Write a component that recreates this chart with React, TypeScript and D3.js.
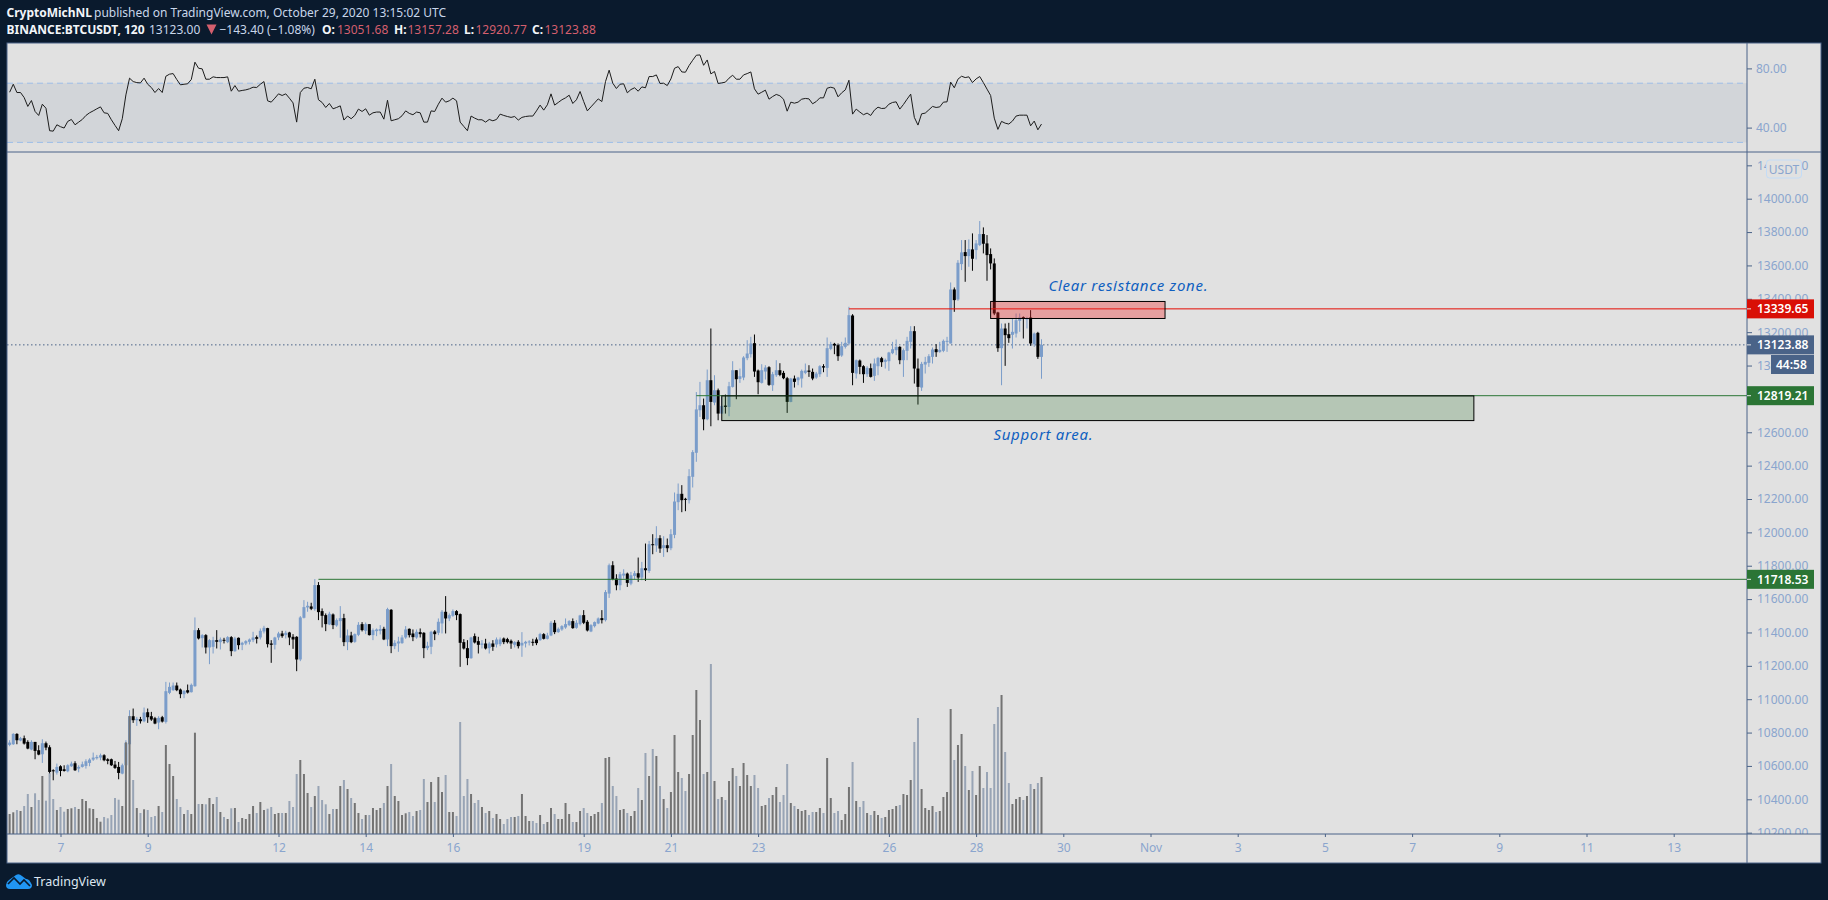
import * as d3 from "d3";
import { useEffect, useRef } from "react";

const width = 1828;
const height = 900;

const opens = [
  10726,10730,10792,10752,10766,10744,10698,10744,10694,10670,
  10736,10712,10574,10560,10598,10580,10568,10598,10616,10584,
  10594,10600,10618,10638,10646,10650,10664,10640,10640,10608,
  10594,10554,10604,10730,10898,10874,10880,10868,10922,10898,
  10886,10860,10892,10864,11038,11054,11082,11058,11030,11054,
  11042,11078,11414,11366,11384,11310,11314,11354,11342,11356,
  11342,11372,11288,11368,11326,11334,11344,11354,11372,11370,
  11406,11426,11334,11326,11370,11394,11384,11400,11374,11374,
  11238,11488,11550,11556,11540,11684,11528,11504,11448,11508,
  11442,11468,11486,11342,11382,11344,11386,11450,11410,11450,
  11384,11408,11410,11422,11358,11536,11318,11334,11336,11370,
  11422,11394,11370,11402,11398,11306,11314,11406,11398,11454,
  11524,11484,11500,11528,11510,11342,11306,11246,11378,11348,
  11326,11334,11306,11334,11328,11330,11364,11360,11350,11326,
  11344,11322,11334,11340,11344,11358,11354,11390,11362,11382,
  11458,11402,11418,11430,11444,11468,11428,11450,11504,11464,
  11406,11438,11454,11486,11474,11633,11803,11723,11683,11741,
  11753,11693,11739,11755,11729,11785,11769,11929,11921,11965,
  11907,11923,11905,11985,12181,12231,12201,12193,12333,12477,
  12732,12762,12678,12912,12778,12852,12712,12760,12752,12872,
  12972,12920,12928,13044,13068,13134,12970,12896,12964,12990,
  12882,12942,12972,12956,12924,12782,12922,12912,12922,12956,
  12970,12962,12928,12948,12996,12986,13100,13130,13122,13060,
  13112,13132,13300,12952,13030,12996,12948,12984,12938,12996,
  13044,13022,13026,13074,13092,13112,13032,13088,13142,13206,
  12982,12868,13006,13016,13052,13098,13082,13088,13142,13132,
  13456,13396,13608,13680,13656,13696,13692,13722,13788,13732,
  13668,13612,13318,13104,13222,13188,13184,13192,13268,13290,
  13278,13288,13128,13196,13051.68,
];

const closes = [
  10740,10792,10754,10766,10734,10704,10744,10690,10668,10736,
  10710,10564,10568,10594,10570,10570,10604,10614,10574,10594,
  10610,10628,10638,10650,10654,10664,10634,10630,10604,10588,
  10558,10604,10738,10898,10874,10882,10868,10920,10892,10878,
  10854,10888,10866,11048,11074,11082,11054,11030,11050,11040,
  11086,11414,11364,11384,11310,11354,11354,11344,11358,11350,
  11372,11288,11364,11324,11338,11348,11358,11370,11362,11410,
  11428,11330,11326,11370,11394,11378,11398,11370,11358,11238,
  11490,11552,11560,11542,11684,11522,11500,11450,11512,11444,
  11474,11486,11342,11382,11342,11390,11446,11414,11450,11384,
  11414,11418,11420,11358,11540,11318,11338,11346,11370,11418,
  11384,11372,11404,11390,11306,11320,11404,11390,11464,11524,
  11484,11504,11528,11504,11338,11304,11246,11370,11340,11326,
  11334,11304,11334,11314,11358,11358,11342,11342,11334,11342,
  11318,11338,11344,11346,11340,11336,11390,11362,11382,11458,
  11402,11422,11438,11450,11468,11426,11458,11502,11458,11412,
  11444,11462,11484,11474,11642,11803,11719,11683,11749,11753,
  11697,11743,11755,11729,11785,11773,11929,11923,11965,11903,
  11923,11905,11989,12185,12231,12193,12197,12337,12481,12737,
  12762,12678,12912,12782,12852,12712,12758,12752,12876,12972,
  12918,12936,13048,13072,13132,12964,12900,12972,12988,12884,
  12948,12972,12944,12924,12782,12922,12902,12928,12968,12970,
  12962,12922,12952,12996,12988,13104,13128,13120,13056,13116,
  13136,13302,12956,13032,12992,12948,12986,12932,13012,13046,
  13020,13034,13078,13098,13112,13032,13092,13148,13206,12982,
  12872,13010,13022,13056,13096,13080,13094,13148,13148,13456,
  13392,13616,13678,13656,13698,13640,13732,13788,13730,13662,
  13612,13312,13104,13222,13182,13164,13202,13272,13288,13284,
  13282,13132,13192,13052,13123.88,
];

const highs = [
  10754,10796,10796,10774,10782,10754,10754,10744,10724,10760,
  10746,10724,10580,10614,10604,10604,10610,10626,10628,10604,
  10626,10640,10646,10680,10666,10674,10670,10646,10644,10630,
  10624,10614,10754,10934,10944,10894,10894,10950,10944,10924,
  10894,10898,10900,11104,11100,11100,11100,11064,11054,11088,
  11094,11490,11426,11390,11390,11360,11374,11414,11370,11368,
  11378,11378,11374,11370,11344,11354,11364,11404,11382,11424,
  11440,11428,11354,11374,11404,11410,11410,11404,11390,11378,
  11498,11594,11584,11578,11720,11702,11544,11514,11524,11514,
  11484,11558,11512,11418,11404,11394,11462,11462,11460,11450,
  11424,11424,11444,11434,11548,11540,11354,11374,11384,11438,
  11424,11418,11418,11424,11402,11344,11410,11414,11484,11534,
  11618,11514,11538,11534,11514,11360,11354,11374,11394,11374,
  11354,11362,11344,11354,11370,11370,11370,11368,11358,11348,
  11354,11402,11350,11354,11362,11370,11398,11396,11398,11468,
  11474,11430,11444,11484,11474,11484,11474,11506,11534,11474,
  11450,11466,11490,11534,11654,11813,11827,11749,11763,11779,
  11759,11763,11769,11849,11823,11933,11949,11989,12037,11983,
  11977,11963,12019,12239,12293,12283,12207,12379,12493,12841,
  12902,12802,12976,13222,12942,12862,12812,12826,12902,13026,
  12972,12982,13056,13152,13172,13186,12976,13008,13002,12996,
  12962,13032,13014,12968,12932,12926,12940,12932,12976,13012,
  13002,12982,12962,13002,13008,13168,13142,13136,13132,13142,
  13168,13352,13308,13036,13036,13002,12996,13012,13042,13052,
  13052,13042,13082,13142,13156,13116,13102,13172,13236,13236,
  13042,13022,13052,13068,13108,13128,13142,13156,13172,13498,
  13468,13632,13752,13752,13756,13792,13752,13866,13828,13782,
  13702,13642,13322,13252,13252,13256,13282,13312,13312,13294,
  13292,13332,13198,13202,13157.28,
];

const lows = [
  10718,10726,10730,10748,10728,10700,10694,10640,10664,10618,
  10694,10532,10514,10548,10538,10566,10562,10594,10570,10562,
  10590,10584,10598,10630,10638,10634,10628,10610,10600,10582,
  10520,10550,10554,10714,10858,10840,10854,10862,10858,10870,
  10850,10820,10860,10854,11030,11050,11048,11006,11006,11034,
  11040,11074,11358,11310,11274,11210,11274,11304,11298,11334,
  11336,11258,11284,11298,11294,11324,11328,11342,11334,11358,
  11394,11310,11218,11298,11354,11368,11364,11324,11302,11168,
  11228,11484,11524,11534,11530,11474,11430,11408,11444,11420,
  11434,11368,11318,11294,11336,11338,11378,11406,11390,11382,
  11354,11378,11388,11354,11318,11276,11300,11284,11332,11362,
  11370,11348,11362,11370,11246,11294,11270,11354,11384,11394,
  11394,11468,11494,11474,11194,11298,11204,11242,11334,11274,
  11304,11298,11274,11290,11310,11318,11330,11334,11302,11310,
  11304,11254,11310,11322,11320,11324,11350,11358,11358,11378,
  11390,11398,11410,11422,11438,11422,11422,11442,11450,11406,
  11402,11430,11450,11454,11466,11607,11713,11653,11653,11723,
  11673,11683,11717,11703,11713,11709,11757,11869,11883,11877,
  11853,11881,11893,11965,12133,12121,12127,12173,12269,12423,
  12692,12612,12672,12636,12762,12672,12712,12712,12696,12868,
  12798,12896,12912,13032,13048,12932,12828,12892,12916,12878,
  12848,12932,12936,12918,12716,12780,12868,12882,12868,12948,
  12932,12912,12920,12932,12960,12932,13092,13068,13028,13052,
  13102,13122,12882,12922,12948,12896,12932,12928,12908,12942,
  12992,12982,12968,13068,13062,13008,12932,13032,13102,12892,
  12766,12848,12952,12992,13012,13052,13076,13080,13082,13132,
  13322,13388,13572,13502,13592,13568,13636,13716,13672,13508,
  13576,13302,13082,12882,12998,13136,13102,13168,13202,13162,
  13222,13118,13112,13040,12920.77,
];

const volumes = [
  20,21.7,24,23,28,40,27,40.7,34,58,
  33.3,60.7,35,24,27,22.3,25,25.7,27,25,
  35,33,25.7,25,16,12.3,17,15.7,19,36,
  34.3,28,91.7,118,54,26,21,24.7,24,17,
  18,28,22,89,70,58,35,27,20,24,
  20,101.3,30,30,29.7,36,30,37,22,17,
  15,25.7,26,12,16,15,20,28,21,32,
  24,25.3,27,20,21,21,21,33,27,60,
  74,60,41,27,38,48,34,29.7,20,25,
  25,48,54,45,36,31,21,15,19,19,
  26,24,26,31,48,70,38,33,19,20.7,
  22,18,23,24,55,32,52,32,57,42,
  59,22,22,18,112,38,55,40,31,34,
  27,21,23,16,20,
  15,10,15,17,17,18,40,18,13,13,
  11,19,10,12,26,20,15,15,31,20,
  12,12,23,26,21,18,20,22,31,76,
  77,48,38,24,25,21,18,23,46,34,
  81,58,85,78,48,35,26,42,99,62,
  56,43,60,99,144,114,60,62,170,53,
  35,37,34,53,66,58,48,71,59,48,
  59,46,28,29,36,39,47,32,39,70,
  31,28,25,23,24,19,22,22,26,21,
  76,36,21,23,14,20,47,72,33,27,
  33,21,19,23,19,16,17,24,25,28,
  29,40,39,54,92,116,45,26,24,28,
  22,23,37,42,125,74,89,100,68,44,
  63,39,68,46,62,46,110,127,139,82,
  51,30,35,37,34,38,50,45,51,57,
];

const rsiValues = [
  63.9,69.3,63.7,63.7,60.3,54.3,58.3,50.9,48.2,55.8,
  53.1,37.9,37.6,41.9,40.6,39.7,44.2,45.5,41.9,43.7,
  45.5,48.2,50,51.3,52.7,54,50,49.6,45.3,41.5,
  37.9,46,62.1,73.4,71.1,70.4,70.2,73.4,69.3,67.1,
  63.7,66.4,63.7,74.7,76.1,76.5,72.5,68.9,69.3,69.6,
  72.5,84.2,80.1,79.7,72.7,72.7,74.3,73.8,73.8,73.8,
  74.3,64.6,68.4,64.6,65.1,65.5,66.2,67.3,67.1,69.3,
  71.1,58.1,57.2,59.9,62.8,61.7,62.8,59.9,56.7,43.7,
  63.7,66.6,67.1,66.2,72.7,58.8,57,53.6,56.3,52.7,
  53.6,54.7,45.1,47.8,
  46,48.2,52.5,50.9,52.7,48.4,50,50.5,50.5,45.7,
  58.5,44.6,45.3,46,48,51.3,49.6,48.7,50.5,50,
  43.7,43.7,51.3,50.9,55.8,59.9,57.2,58.1,59.9,58.1,
  43.7,40.8,37.9,47.8,46.4,45.3,45.3,43.7,45.5,44.6,
  45.5,49.1,48.2,47.5,46.9,47.5,45.1,46.9,47.5,47.8,
  47.8,51.3,55.2,51.8,55.4,62.8,55.2,57,58.8,60.1,
  61.9,56.3,58.8,64.4,57.6,51.3,54,56.7,59.4,57.6,
  71.1,78.8,70,66.4,69.3,69.6,63.5,65.7,66.9,64.6,
  67.5,66.9,74.5,74.5,75.6,69.8,70,68.4,72.9,80.1,
  81.2,77.6,77.4,81.9,85.5,88.9,
  89.1,82.1,85.7,76.3,77.9,69.8,70.2,70.7,73.4,75.4,
  72.7,72.7,75.6,76.5,77.6,66.2,62.6,63.9,65.3,59.2,
  61,62.4,61.5,59.2,51.1,57.2,56.5,57.2,59.2,59.7,
  59.4,56.1,57.6,60.1,60.1,66.6,67.3,66.6,60.8,63.5,
  65.5,72,49.1,52.5,50.5,48.7,49.8,48.2,51.8,53.8,
  52.9,53.1,55.8,57,57.4,52.5,55.6,59.2,62.6,46.9,
  41.7,49.3,49.8,52,54.3,53.6,54,57.2,57.4,70.7,
  66.9,72.7,74.7,73.8,74.3,70.4,72.9,74.5,70.4,66,
  61.7,46.4,38.8,44.2,43,42.4,44.4,47.8,48.4,48.4,
  48.4,41.2,44.4,38.5,42.4,
];

const priceTicks = d3.range(10200, 14201, 200);
const rsiTicks = [80, 40];
const dayTicks = [
  [9, 7], [9, 9], [9, 12], [9, 14], [9, 16], [9, 19], [9, 21], [9, 23], [9, 26], [9, 28], [9, 30],
  [10, 1], [10, 3], [10, 5], [10, 7], [10, 9], [10, 11], [10, 13],
];

const lastClose = 13123.88;
const resistanceLevel = 13339.65;
const supportLevel = 12819.21;
const breakoutLevel = 11718.53;
const resistanceZone = { fromBar: 270, toBar: 318, top: 13384, bottom: 13282 };
const supportZone = { fromBar: 196, toBar: 403, top: 12818, bottom: 12670 };

const bg = "#0a1a2d";
const panelBg = "#e1e1e1";
const borderColor = "#4a6388";
const axisText = "#8aa5ce";
const upColor = "#7b9dca";
const red = "#d90f06";
const green = "#2b7535";
const uiFont = "'Noto Sans', sans-serif";

const left = 7;
const right = 1821;
const axisX = 1747;
const top = 43;
const paneSplit = 152;
const timeAxisY = 834;
const bottom = 863;

export default function App() {
  const svgRef = useRef<SVGSVGElement>(null);

  useEffect(() => {
    document.body.style.margin = "0";
    document.body.style.background = bg;
    if (!svgRef.current) return;

    const svg = d3.select(svgRef.current);
    svg.selectAll("*").remove();

    const x = d3.scaleUtc()
      .domain([new Date(Date.UTC(2020, 9, 7)), new Date(Date.UTC(2020, 10, 13))])
      .range([60.5, 1673.7]);
    const barTime = (i: number) => new Date(Date.UTC(2020, 9, 7) + (i - 14) * 2 * 3600 * 1000);
    const barX = (i: number) => x(barTime(i));

    const priceY = d3.scaleLinear().domain([10400, 14000]).range([799.3, 198.7]);
    const rsiY = d3.scaleLinear().domain([30, 70]).range([142.4, 83.2]);
    const volumeY = d3.scaleLinear().domain([0, 170]).range([timeAxisY, 664]);

    svg.append("rect").attr("width", width).attr("height", height).attr("fill", bg);
    svg.append("rect")
      .attr("x", left).attr("y", top)
      .attr("width", right - left).attr("height", bottom - top)
      .attr("fill", panelBg);

    svg.append("defs").append("clipPath").attr("id", "price-axis-clip").append("rect")
      .attr("x", axisX).attr("y", paneSplit).attr("width", right - axisX).attr("height", timeAxisY - paneSplit);

    // rsi pane
    svg.append("rect")
      .attr("x", left).attr("y", rsiY(70))
      .attr("width", axisX - left).attr("height", rsiY(30) - rsiY(70))
      .attr("fill", "#d2d5d9");
    [70, 30].forEach((level) => {
      svg.append("line")
        .attr("x1", left).attr("x2", axisX)
        .attr("y1", rsiY(level)).attr("y2", rsiY(level))
        .attr("stroke", "#9dbde8").attr("stroke-dasharray", "6,4");
    });
    const rsiLine = d3.line<number>()
      .x((_, i) => barX(i))
      .y((d) => rsiY(d));
    svg.append("path")
      .attr("d", rsiLine(rsiValues))
      .attr("fill", "none").attr("stroke", "#1c1c1c").attr("stroke-width", 1);

    // last close dotted line sits under the candles
    svg.append("line")
      .attr("x1", left).attr("x2", axisX)
      .attr("y1", priceY(lastClose)).attr("y2", priceY(lastClose))
      .attr("stroke", borderColor).attr("stroke-dasharray", "1.5,2.5");

    // candles
    const bars = d3.range(opens.length);
    const candleColor = (i: number) => closes[i] >= opens[i] ? upColor : "#000000";
    svg.append("g").selectAll("line")
      .data(bars)
      .join("line")
      .attr("x1", (i) => barX(i)).attr("x2", (i) => barX(i))
      .attr("y1", (i) => priceY(highs[i])).attr("y2", (i) => priceY(lows[i]))
      .attr("stroke", candleColor).attr("stroke-width", 1);
    svg.append("g").selectAll("rect")
      .data(bars)
      .join("rect")
      .attr("x", (i) => barX(i) - 1.5)
      .attr("width", 3)
      .attr("y", (i) => priceY(Math.max(opens[i], closes[i])))
      .attr("height", (i) => Math.max(1, Math.abs(priceY(opens[i]) - priceY(closes[i]))))
      .attr("fill", candleColor);

    // volume colours are the other way round from the candles on this chart
    svg.append("g").selectAll("rect")
      .data(bars)
      .join("rect")
      .attr("x", (i) => barX(i) - 1)
      .attr("width", 2)
      .attr("y", (i) => volumeY(volumes[i]))
      .attr("height", (i) => timeAxisY - volumeY(volumes[i]))
      .attr("fill", (i) => closes[i] >= opens[i] ? "#737373" : "#98a4b5");

    // horizontal levels
    const levels = [
      { price: resistanceLevel, from: 231, color: "#e40b03" },
      { price: supportLevel, from: 189, color: green },
      { price: breakoutLevel, from: 85, color: green },
    ];
    levels.forEach((level) => {
      svg.append("line")
        .attr("x1", barX(level.from)).attr("x2", axisX)
        .attr("y1", priceY(level.price)).attr("y2", priceY(level.price))
        .attr("stroke", level.color).attr("stroke-width", 1);
    });

    // zones
    svg.append("rect")
      .attr("x", barX(resistanceZone.fromBar))
      .attr("y", priceY(resistanceZone.top))
      .attr("width", barX(resistanceZone.toBar) - barX(resistanceZone.fromBar))
      .attr("height", priceY(resistanceZone.bottom) - priceY(resistanceZone.top))
      .attr("fill", "rgba(240,40,40,0.35)").attr("stroke", "#000").attr("stroke-width", 1);
    svg.append("rect")
      .attr("x", barX(supportZone.fromBar))
      .attr("y", priceY(supportZone.top))
      .attr("width", barX(supportZone.toBar) - barX(supportZone.fromBar))
      .attr("height", priceY(supportZone.bottom) - priceY(supportZone.top))
      .attr("fill", "rgba(50,120,50,0.25)").attr("stroke", "#000").attr("stroke-width", 1);

    // annotations
    svg.append("text")
      .attr("x", 1048.5).attr("y", 291)
      .attr("textLength", 159)
      .attr("font-family", uiFont).attr("font-style", "italic")
      .attr("font-size", 15).attr("fill", "#0f5fc0")
      .text("Clear resistance zone.");
    svg.append("text")
      .attr("x", 993.5).attr("y", 440)
      .attr("textLength", 99)
      .attr("font-family", uiFont).attr("font-style", "italic")
      .attr("font-size", 15).attr("fill", "#0f5fc0")
      .text("Support area.");

    // axes
    const priceAxis = svg.append("g")
      .attr("clip-path", "url(#price-axis-clip)")
      .append("g")
      .attr("transform", `translate(${axisX},0)`);
    priceAxis.call(
      d3.axisRight(priceY).tickValues(priceTicks).tickSize(5).tickPadding(5).tickFormat(d3.format(".2f") as any),
    );
    const rsiAxis = svg.append("g").attr("transform", `translate(${axisX},0)`);
    rsiAxis.call(
      d3.axisRight(rsiY).tickValues(rsiTicks).tickSize(5).tickPadding(4).tickFormat(d3.format(".2f") as any),
    );
    const timeAxis = svg.append("g").attr("transform", `translate(0,${timeAxisY})`);
    timeAxis.call(
      d3.axisBottom(x)
        .tickValues(dayTicks.map(([m, d]) => new Date(Date.UTC(2020, m, d))))
        .tickSize(3).tickPadding(6)
        .tickFormat((d: any) => (d.getUTCMonth() === 10 && d.getUTCDate() === 1 ? "Nov" : String(d.getUTCDate()))),
    );
    [priceAxis, rsiAxis, timeAxis].forEach((axis) => {
      axis.select(".domain").remove();
      axis.selectAll("line").attr("stroke", borderColor);
      axis.selectAll("text")
        .attr("fill", axisText).attr("font-family", uiFont).attr("font-size", 12);
    });

    // frame
    const frame = svg.append("g").attr("stroke", borderColor).attr("stroke-width", 1).attr("fill", "none");
    frame.append("rect").attr("x", left).attr("y", top).attr("width", right - left).attr("height", bottom - top);
    frame.append("line").attr("x1", left).attr("x2", right).attr("y1", paneSplit).attr("y2", paneSplit);
    frame.append("line").attr("x1", left).attr("x2", right).attr("y1", timeAxisY).attr("y2", timeAxisY);
    frame.append("line").attr("x1", axisX).attr("x2", axisX).attr("y1", top).attr("y2", bottom);

    // price labels
    const tags = [
      { price: resistanceLevel, color: red },
      { price: lastClose, color: borderColor },
      { price: supportLevel, color: green },
      { price: breakoutLevel, color: green },
    ];
    tags.forEach((tag) => {
      const y = priceY(tag.price);
      svg.append("rect")
        .attr("x", axisX).attr("y", y - 9.5).attr("width", 67).attr("height", 19)
        .attr("fill", tag.color);
      svg.append("line")
        .attr("x1", axisX).attr("x2", axisX + 4).attr("y1", y).attr("y2", y)
        .attr("stroke", "#e8e8e8");
      svg.append("text")
        .attr("x", axisX + 10).attr("y", y + 4.3)
        .attr("font-family", uiFont).attr("font-size", 12).attr("font-weight", 600)
        .attr("fill", "#ffffff")
        .text(d3.format(".2f")(tag.price));
    });
    svg.append("rect")
      .attr("x", 1771).attr("y", 355).attr("width", 43).attr("height", 19)
      .attr("fill", borderColor);
    svg.append("text")
      .attr("x", 1776).attr("y", 369)
      .attr("font-family", uiFont).attr("font-size", 12).attr("font-weight", 600)
      .attr("fill", "#ffffff")
      .text("44:58");

    // currency badge
    svg.append("rect")
      .attr("x", 1766.5).attr("y", 160).attr("width", 35).attr("height", 18).attr("rx", 3)
      .attr("fill", panelBg).attr("stroke", "#c3dcf7");
    svg.append("text")
      .attr("x", 1784).attr("y", 173.5).attr("text-anchor", "middle")
      .attr("font-family", uiFont).attr("font-size", 12).attr("fill", axisText)
      .text("USDT");

    // header
    const header = svg.append("g").attr("font-family", uiFont).attr("font-size", 12);
    const headerText = (xPos: number, y: number, text: string, color: string, bold = false) => {
      header.append("text")
        .attr("x", xPos).attr("y", y)
        .attr("fill", color)
        .attr("font-weight", bold ? 700 : 400)
        .text(text);
    };
    const white = "#f2f5f9";
    const soft = "#c8d6ea";
    const pink = "#d45f6e";
    headerText(6.5, 17, "CryptoMichNL", white, true);
    headerText(94, 17, "published on TradingView.com, October 29, 2020 13:15:02 UTC", soft);
    headerText(6.5, 34, "BINANCE:BTCUSDT, 120", white, true);
    headerText(149, 34, "13123.00", soft);
    header.append("path").attr("d", "M206.5,24.5 L216.5,24.5 L211.5,34.5 Z").attr("fill", pink);
    headerText(219.5, 34, "\u2212143.40 (\u22121.08%)", soft);
    headerText(322, 34, "O:", white, true);
    headerText(337, 34, "13051.68", pink);
    headerText(394, 34, "H:", white, true);
    headerText(407.5, 34, "13157.28", pink);
    headerText(464, 34, "L:", white, true);
    headerText(475.5, 34, "12920.77", pink);
    headerText(532, 34, "C:", white, true);
    headerText(544.5, 34, "13123.88", pink);

    // logo
    svg.append("path")
      .attr("d", "M6,885 Q6,882 9,880 L16,875 Q19,873 22,876 L26,879 Q29,878 32,885 Q32,889 28,889 L10,889 Q6,889 6,885 Z")
      .attr("fill", "#2196f3");
    svg.append("path")
      .attr("d", "M8,884 L14,878 L20,884 L24,880 L30,886")
      .attr("fill", "none").attr("stroke", bg).attr("stroke-width", 1.6);
    svg.append("text")
      .attr("x", 34).attr("y", 886)
      .attr("font-family", uiFont).attr("font-size", 12.5).attr("fill", "#dde6f0")
      .text("TradingView");
  }, []);

  return (
    <svg
      ref={svgRef}
      width={width}
      height={height}
      style={{ display: "block", position: "fixed", left: 0, top: 0 }}
    ></svg>
  );
}
